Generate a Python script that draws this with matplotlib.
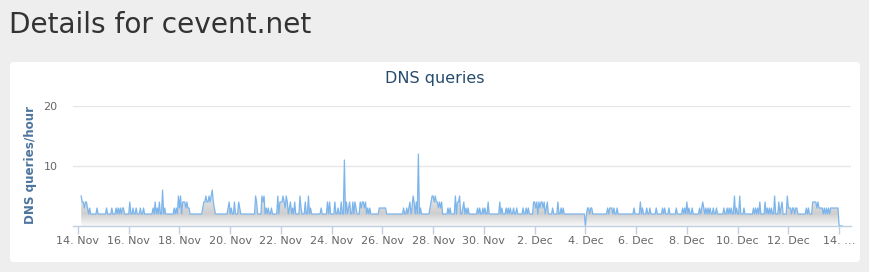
import numpy as np
import matplotlib.pyplot as plt
from matplotlib.patches import FancyBboxPatch, Polygon
from matplotlib.colors import LinearSegmentedColormap

# hourly DNS queries, one row per day; first row starts 14 Nov 03:00
first_hour = 3
queries = [
    5, 4, 4, 3, 4, 4, 3, 2, 3, 2, 2, 2, 2, 2, 2, 3, 2, 2, 2, 2, 2,  # 14 Nov
    2, 2, 2, 3, 2, 2, 2, 2, 3, 2, 2, 2, 3, 2, 3, 2, 3, 2, 3, 3, 2, 2, 2, 2,  # 15 Nov
    2, 4, 2, 2, 3, 2, 2, 3, 2, 2, 2, 3, 2, 2, 3, 2, 2, 2, 2, 2, 2, 2, 2, 3,  # 16 Nov
    2, 4, 2, 3, 2, 4, 2, 2, 6, 2, 3, 2, 2, 2, 2, 2, 2, 2, 2, 3, 2, 3, 2, 5,  # 17 Nov
    3, 5, 2, 4, 4, 4, 3, 4, 3, 3, 2, 2, 2, 2, 2, 2, 2, 2, 2, 2, 2, 2, 3, 4,  # 18 Nov
    4, 5, 4, 4, 5, 4, 5, 6, 4, 3, 2, 2, 2, 2, 2, 2, 2, 2, 2, 2, 2, 2, 3, 4,  # 19 Nov
    2, 3, 2, 2, 4, 2, 2, 2, 4, 3, 2, 2, 2, 2, 2, 2, 2, 2, 2, 2, 2, 2, 2, 2,  # 20 Nov
    5, 4, 2, 2, 2, 2, 5, 4, 5, 2, 3, 2, 3, 2, 2, 3, 2, 2, 2, 2, 2, 5, 2, 4,  # 21 Nov
    4, 4, 5, 4, 3, 5, 4, 2, 3, 4, 2, 3, 2, 4, 2, 2, 2, 2, 5, 3, 2, 2, 2, 4,  # 22 Nov
    2, 2, 5, 2, 3, 2, 2, 2, 2, 2, 2, 2, 2, 2, 3, 2, 2, 2, 2, 2, 4, 2, 4, 2,  # 23 Nov
    2, 2, 2, 4, 2, 2, 3, 2, 2, 4, 2, 2, 11, 2, 4, 2, 3, 4, 2, 2, 4, 2, 4, 3,  # 24 Nov
    2, 2, 2, 4, 3, 4, 4, 3, 4, 2, 3, 2, 3, 2, 2, 2, 2, 2, 2, 2, 2, 3, 3, 3,  # 25 Nov
    3, 3, 3, 3, 2, 2, 2, 2, 2, 2, 2, 2, 2, 2, 2, 2, 2, 2, 2, 2, 3, 2, 2, 3,  # 26 Nov
    2, 3, 4, 2, 3, 5, 4, 2, 4, 2, 12, 2, 3, 2, 2, 2, 2, 2, 2, 2, 2, 3, 4, 5,  # 27 Nov
    5, 4, 5, 4, 4, 3, 4, 3, 4, 2, 2, 2, 2, 2, 3, 2, 3, 2, 2, 2, 2, 5, 2, 4,  # 28 Nov
    4, 5, 2, 2, 3, 4, 2, 3, 2, 3, 2, 2, 2, 2, 2, 2, 2, 2, 3, 2, 3, 2, 2, 3,  # 29 Nov
    2, 3, 2, 2, 4, 2, 2, 2, 2, 2, 2, 2, 2, 2, 2, 4, 2, 3, 2, 2, 2, 3, 2, 3,  # 30 Nov
    2, 3, 2, 2, 3, 2, 2, 3, 2, 2, 2, 2, 2, 3, 2, 2, 3, 2, 3, 2, 2, 2, 2, 4,  # 1 Dec
    4, 3, 4, 2, 4, 3, 4, 4, 3, 4, 2, 3, 4, 2, 2, 2, 2, 3, 2, 2, 2, 2, 4, 2,  # 2 Dec
    2, 3, 2, 3, 2, 2, 2, 2, 2, 2, 2, 2, 2, 2, 2, 2, 2, 2, 2, 2, 2, 2, 2, 2,  # 3 Dec
    0, 2, 3, 3, 2, 3, 3, 2, 2, 2, 2, 2, 2, 2, 2, 2, 2, 2, 2, 2, 2, 3, 2, 3,  # 4 Dec
    3, 3, 2, 3, 2, 2, 3, 2, 2, 2, 2, 2, 2, 2, 2, 2, 2, 2, 2, 2, 2, 2, 3, 2,  # 5 Dec
    2, 2, 2, 2, 4, 2, 3, 2, 2, 2, 3, 2, 2, 3, 2, 2, 2, 2, 2, 3, 2, 2, 2, 2,  # 6 Dec
    2, 3, 2, 3, 2, 2, 2, 3, 2, 2, 2, 2, 2, 2, 3, 2, 2, 2, 2, 2, 3, 2, 3, 2,  # 7 Dec
    4, 2, 3, 2, 2, 3, 2, 2, 2, 2, 2, 2, 3, 2, 3, 4, 3, 2, 3, 2, 3, 2, 3, 2,  # 8 Dec
    2, 3, 2, 2, 3, 2, 2, 2, 2, 2, 2, 3, 2, 2, 3, 2, 3, 2, 3, 2, 2, 5, 2, 3,  # 9 Dec
    2, 2, 5, 2, 2, 2, 3, 2, 2, 2, 2, 2, 2, 2, 2, 3, 2, 3, 2, 3, 2, 4, 2, 2,  # 10 Dec
    2, 2, 4, 2, 3, 2, 3, 2, 3, 2, 2, 5, 2, 2, 2, 4, 2, 3, 4, 2, 2, 2, 2, 5,  # 11 Dec
    3, 3, 3, 2, 3, 3, 2, 3, 3, 2, 2, 2, 2, 2, 2, 2, 2, 3, 2, 3, 2, 2, 2, 4,  # 12 Dec
    4, 4, 4, 3, 4, 3, 3, 3, 3, 2, 3, 2, 3, 2, 3, 2, 3, 3, 3, 3, 3, 3, 3, 3,  # 13 Dec
    0, 0, 0, 0,  # 14 Dec
]

tick_days = [0, 2, 4, 6, 8, 10, 12, 14, 16, 18, 20, 22, 24, 26, 28, 30]
tick_labels = ['14. Nov', '16. Nov', '18. Nov', '20. Nov', '22. Nov', '24. Nov',
               '26. Nov', '28. Nov', '30. Nov', '2. Dec', '4. Dec', '6. Dec',
               '8. Dec', '10. Dec', '12. Dec', '14. …']

W, H = 870, 272
fig = plt.figure(figsize=(W / 100, H / 100), dpi=100, facecolor='#eeeeee')

# white card behind the chart
card = FancyBboxPatch((0.10, 0.10), 8.50, 2.00, boxstyle='round,pad=0,rounding_size=0.04',
                      transform=fig.dpi_scale_trans, facecolor='white', edgecolor='none',
                      zorder=-5)
fig.patches.append(card)

fig.text(9 / W, 1 - 33 / H, 'Details for cevent.net', fontsize=20.2, color='#333333',
         va='baseline', ha='left')
fig.text(435 / W, 1 - 78 / H, 'DNS queries', fontsize=11.5, color='#274b6d',
         va='center', ha='center')
fig.text(31 / W, 1 - 165 / H, 'DNS queries/hour', fontsize=8.6, color='#4d759e',
         fontweight='bold', rotation=90, va='center', ha='center')

ax = fig.add_axes([73 / W, 1 - 226 / H, 778 / W, 120 / H])
ax.set_facecolor('none')
ax.set_zorder(2)

x = (first_hour + np.arange(len(queries))) / 24.0
y = np.array(queries, dtype=float)

x0 = (73 - 78) / 25.37
x1 = (851 - 78) / 25.37

# gradient area under the line
poly = Polygon(np.column_stack([np.r_[x[0], x, x[-1]], np.r_[0, y, 0]]), closed=True,
               facecolor='none', edgecolor='none')
ax.add_patch(poly)
cmap = LinearSegmentedColormap.from_list('fill', [(0, '#f9f9f9'), (0.17, '#cfcfcf'),
                                                  (0.5, '#eeeeee'), (1, '#ffffff')])
grad = np.linspace(0, 1, 256).reshape(-1, 1)
img = ax.imshow(grad, cmap=cmap, extent=[x0, x1, 0, 12], origin='lower', aspect='auto',
                zorder=1, interpolation='bilinear')
img.set_clip_path(poly)

ax.plot(x, y, color='#7cb5ec', lw=0.9, zorder=3)

ax.set_xlim(x0, x1)
ax.set_ylim(0, 20)
ax.set_yticks([10, 20])
ax.set_yticklabels(['10', '20'])
ax.grid(axis='y', color='#e6e6e6', lw=1)
ax.set_axisbelow(True)

ax.set_xticks(tick_days)
ax.set_xticklabels(tick_labels)

for s in ['top', 'right', 'left']:
    ax.spines[s].set_visible(False)
ax.spines['bottom'].set_color('#c0d0e0')
ax.spines['bottom'].set_linewidth(1)
ax.tick_params(axis='x', length=6, width=1, color='#c0d0e0', labelsize=8, labelcolor='#666666', pad=1.5)
ax.tick_params(axis='y', length=0, labelsize=8, labelcolor='#666666', pad=11)

fig.savefig('out.png', dpi=100, facecolor=fig.get_facecolor())
